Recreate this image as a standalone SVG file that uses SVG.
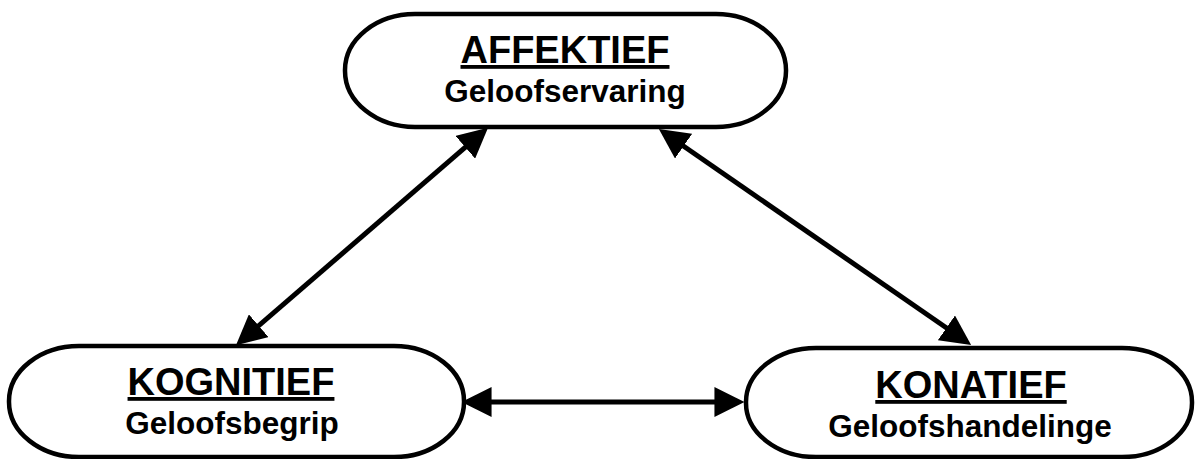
<svg xmlns="http://www.w3.org/2000/svg" width="1195" height="459" viewBox="0 0 1195 459">
<style>
.node{fill:#fff;stroke:#000;stroke-width:4.5}
.t1{font-family:"Liberation Sans",Arial,sans-serif;font-weight:bold;font-size:38px;text-anchor:middle;text-decoration:underline}
.t2{font-family:"Liberation Sans",Arial,sans-serif;font-weight:bold;font-size:31.5px;text-anchor:middle}
.conn{stroke:#000;stroke-width:5;fill:none}
</style>
<defs>
<marker id="ah" markerUnits="userSpaceOnUse" markerWidth="30" markerHeight="30" viewBox="0 0 28 28" refX="8" refY="14" orient="auto-start-reverse">
<path d="M0,0 L28,14 L0,28 z" fill="#000"/>
</marker>
</defs>
<g id="connectors">
<line class="conn" x1="471.8" y1="141.7" x2="252.2" y2="331.3" marker-start="url(#ah)" marker-end="url(#ah)"/>
<line class="conn" x1="676.5" y1="141.3" x2="953.5" y2="332.7" marker-start="url(#ah)" marker-end="url(#ah)"/>
<line class="conn" x1="483" y1="402" x2="723" y2="402" marker-start="url(#ah)" marker-end="url(#ah)"/>
</g>
<g id="affektief">
<rect class="node" x="345" y="14" width="441" height="113" rx="70" ry="56"/>
<text class="t1" x="565" y="63">AFFEKTIEF</text>
<text class="t2" x="565" y="102">Geloofservaring</text>
</g>
<g id="kognitief">
<rect class="node" x="9" y="346" width="455" height="111" rx="70" ry="55"/>
<text class="t1" x="231" y="395">KOGNITIEF</text>
<text class="t2" x="232" y="434">Geloofsbegrip</text>
</g>
<g id="konatief">
<rect class="node" x="746" y="348" width="446" height="109" rx="70" ry="54"/>
<text class="t1" x="971" y="398">KONATIEF</text>
<text class="t2" x="970" y="437">Geloofshandelinge</text>
</g>
</svg>
